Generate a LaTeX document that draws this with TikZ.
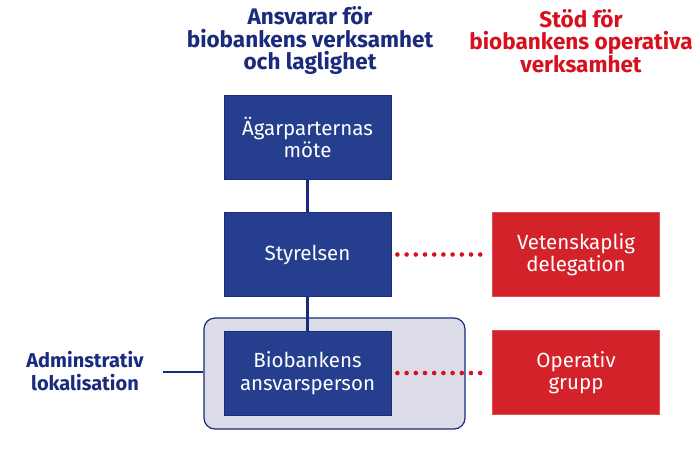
\documentclass[tikz,border=0pt]{standalone}
\usepackage{fontspec}
\setmainfont{Fira Sans}
\usetikzlibrary{positioning}
\definecolor{boxblue}{HTML}{253F8E}
\definecolor{navy}{HTML}{1A2A7C}
\definecolor{boxred}{HTML}{D3222A}
\definecolor{txtred}{HTML}{D7101E}
\definecolor{pale}{HTML}{DCDCE8}
\tikzset{
  bluebox/.style={draw=navy, line width=0.8pt, fill=boxblue, text=white, minimum width=167pt, minimum height=84pt, align=center, inner sep=0pt, font=\fontsize{20.5}{22.5}\selectfont},
  redbox/.style={draw=boxred!80!white, line width=0.8pt, fill=boxred, text=white, minimum width=167pt, minimum height=84pt, align=center, inner sep=0pt, font=\fontsize{20.5}{22.5}\selectfont},
  header/.style={align=center, inner sep=0pt, font=\bfseries\fontsize{22.5}{22.5}\selectfont},
  solidline/.style={draw=navy, line width=2.3pt},
  dotline/.style={draw=txtred, line width=4.6pt, line cap=round, dash pattern=on 0pt off 9.2pt},
}
\begin{document}
\begin{tikzpicture}[x=1pt,y=-1pt]
\useasboundingbox (0,0) rectangle (700,472);
\node[draw=navy, line width=1.2pt, fill=pale, rounded corners=11pt, minimum width=261pt, minimum height=111pt, inner sep=0pt] (frame) at (334.5,373.5) {};
\node[header, text=navy] (h1) at (310,41) {Ansvarar för\\biobankens verksamhet\\och laglighet};
\node[header, text=txtred] (h2) at (581,41) {Stöd för\\biobankens operativa\\verksamhet};
\node[bluebox] (agar) at (307.5,137.5) {Ägarparternas\\möte};
\node[bluebox] (styr) at (307.5,254.5) {Styrelsen};
\node[bluebox] (ansv) at (307.5,373) {Biobankens\\ansvarsperson};
\node[redbox] (vet) at (576,254.5) {Vetenskaplig\\delegation};
\node[redbox] (oper) at (576,372.5) {Operativ\\grupp};
\node[header, text=navy, font=\bfseries\fontsize{20}{23}\selectfont] (adm) at (85,371) {Adminstrativ\\lokalisation};
\coordinate (admend) at (163,372);
\draw[solidline] (agar.south) -- (styr.north);
\draw[solidline] (styr.south) -- (ansv.north);
\draw[solidline] (admend) -- (frame.west |- admend);
\draw[dotline, shorten <=6pt, shorten >=3pt] (styr.east) -- (vet.west);
\draw[dotline, shorten <=6pt, shorten >=3pt] (ansv.east) -- (oper.west |- ansv.east);
\end{tikzpicture}
\end{document}
